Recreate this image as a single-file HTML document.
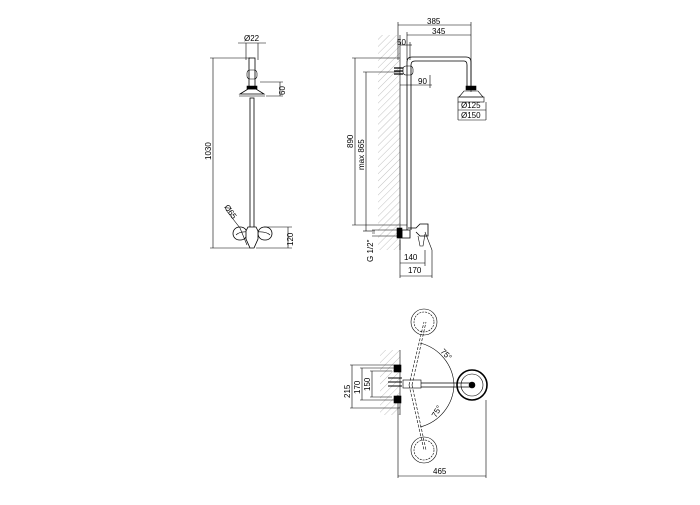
<!DOCTYPE html>
<html><head><meta charset="utf-8"><style>
body{margin:0;background:#fff}
svg text{font-family:"Liberation Sans",sans-serif;font-size:8px;fill:#000}
</style></head><body>
<svg width="700" height="500" viewBox="0 0 700 500" xmlns="http://www.w3.org/2000/svg">
<defs>
<pattern id="h" width="5" height="5" patternUnits="userSpaceOnUse" patternTransform="rotate(45)">
<line x1="0" y1="0" x2="0" y2="5" stroke="#999" stroke-width="0.6"/></pattern>
</defs>
<g fill="none" stroke="#000" stroke-width="0.6">
<!-- FRONT VIEW -->
<line x1="246" y1="43" x2="246" y2="60"/><line x1="258" y1="43" x2="258" y2="60"/>
<line x1="238" y1="43" x2="266" y2="43"/>
<rect x="249" y="58" width="6" height="30" stroke-width="0.8"/>
<rect x="247" y="70" width="10" height="9" rx="3"/>
<rect x="250" y="98" width="4" height="130" stroke-width="0.8"/>
<path d="M247 86 h10 v3 h-10z" fill="#000"/>
<path d="M240 94 L248 89 H256 L264 94 Z" stroke-width="0.8"/>
<line x1="239" y1="96" x2="265" y2="96"/>
<line x1="213" y1="58" x2="213" y2="248"/>
<line x1="210" y1="58" x2="250" y2="58"/><line x1="210" y1="248" x2="250" y2="248"/>
<line x1="260" y1="82" x2="283" y2="82"/><line x1="266" y1="96" x2="283" y2="96"/>
<line x1="280" y1="82" x2="280" y2="96"/>
<line x1="264" y1="227" x2="292" y2="227"/><line x1="256" y1="248" x2="292" y2="248"/>
<line x1="288" y1="227" x2="288" y2="248"/>
<rect x="233" y="227" width="14" height="13" rx="6.5" stroke-width="0.8"/>
<rect x="258" y="227" width="14" height="13" rx="6.5" stroke-width="0.8"/>
<path d="M236 235 Q240 231 248 232 M256 232 Q266 231 270 235" />
<path d="M248 227 h8 l2 4 v8 l-4 9 h-4 l-4 -9 v-8 z" fill="#fff" stroke-width="0.8"/>
<line x1="226" y1="210" x2="240" y2="228"/><line x1="240" y1="228" x2="247" y2="245"/>

<!-- SIDE VIEW -->
<rect x="378" y="35" width="22" height="215" fill="url(#h)" stroke="none"/>
<line x1="400" y1="35" x2="400" y2="250"/>
<line x1="398" y1="22" x2="398" y2="60"/><line x1="471" y1="22" x2="471" y2="92"/>
<line x1="398" y1="25" x2="471" y2="25"/>
<line x1="407" y1="32" x2="407" y2="60"/><line x1="407" y1="35" x2="471" y2="35"/>
<line x1="400" y1="45" x2="412" y2="45"/><line x1="410" y1="42" x2="410" y2="60"/>
<path d="M407 230 V62 Q407 57 412 57 H466 Q471 57 471 62 V86" stroke-width="0.8"/>
<path d="M411 230 V65 Q411 61 415 61 H464 Q467 61 467 65 V86" stroke-width="0.8"/>
<rect x="403" y="66" width="10" height="9" rx="3"/>
<path d="M394 68 h9 M394 71 h9 M394 74 h9" stroke-width="1.2"/>
<line x1="400" y1="85" x2="432" y2="85"/><line x1="430" y1="75" x2="430" y2="88"/>
<path d="M466 86 h10 v4 h-10z" fill="#000"/>
<path d="M459 97 L464 91 H478 L483 97 Z"/>
<rect x="458" y="97" width="26" height="5"/>
<line x1="458" y1="110" x2="486" y2="110"/><line x1="458" y1="120" x2="486" y2="120"/>
<line x1="458" y1="102" x2="458" y2="120"/><line x1="486" y1="102" x2="486" y2="120"/>
<line x1="355" y1="58" x2="355" y2="225"/>
<line x1="352" y1="58" x2="400" y2="58"/><line x1="352" y1="225" x2="407" y2="225"/>
<line x1="366" y1="72" x2="366" y2="231"/>
<line x1="363" y1="72" x2="400" y2="72"/><line x1="363" y1="231" x2="375" y2="231"/>
<path d="M372 230 h25 M372 236 h25 M375 233 h-3" />
<rect x="397" y="228" width="5" height="10" fill="#000"/>
<path d="M402 230 h8 v8 h-8z M408 228 h8 l4 -4 h8 v12 h-8 l-4 -4" stroke-width="0.8"/>
<path d="M418 236 l2 10 l3 0 l2 -12 M425 232 L432 250 V278"/>
<line x1="400" y1="240" x2="400" y2="278"/>
<line x1="425" y1="250" x2="425" y2="266"/>
<line x1="400" y1="263" x2="425" y2="263"/><line x1="400" y1="276" x2="432" y2="276"/>

<!-- TOP VIEW -->
<rect x="380" y="350" width="20" height="65" fill="url(#h)" stroke="none"/>
<line x1="400" y1="350" x2="400" y2="415"/>
<line x1="352" y1="365" x2="352" y2="408"/><line x1="362" y1="368" x2="362" y2="400"/><line x1="372" y1="371" x2="372" y2="397"/>
<line x1="350" y1="365" x2="400" y2="365"/><line x1="350" y1="408" x2="400" y2="408"/>
<line x1="360" y1="368" x2="400" y2="368"/><line x1="360" y1="400" x2="400" y2="400"/>
<line x1="370" y1="371" x2="392" y2="371"/><line x1="370" y1="397" x2="392" y2="397"/>
<rect x="394" y="365" width="7" height="7" fill="#000"/><rect x="394" y="396" width="7" height="7" fill="#000"/>
<path d="M388 378 h14 M388 382 h14 M388 386 h14" stroke-width="1"/>
<rect x="403" y="380" width="18" height="8"/>
<line x1="421" y1="383" x2="470" y2="383" stroke-width="0.8"/><line x1="421" y1="387" x2="470" y2="387" stroke-width="0.8"/>
<circle cx="472" cy="385" r="15" stroke-width="1.6"/><circle cx="472" cy="385" r="11"/><circle cx="472" cy="385" r="3" fill="#000"/>
<circle cx="424" cy="322" r="13"/><circle cx="424" cy="322" r="10" stroke-dasharray="2 1"/>
<circle cx="424" cy="450" r="13"/><circle cx="424" cy="450" r="10" stroke-dasharray="2 1"/>
<path d="M409 385 L424 322 M412 385 L426 322 M409 385 L424 450 M412 385 L426 450" stroke-dasharray="3 1.5"/>
<path d="M420 343 A45 45 0 0 1 454 385 A45 45 0 0 1 420 427"/>
<line x1="398" y1="395" x2="398" y2="478"/><line x1="486" y1="400" x2="486" y2="478"/>
<line x1="398" y1="476" x2="486" y2="476"/>
</g>
<g>
<text x="244" y="41">Ø22</text>
<text transform="translate(211,160) rotate(-90)">1030</text>
<text transform="translate(285,95) rotate(-90)">60</text>
<text transform="translate(293,246) rotate(-90)">120</text>
<text transform="translate(224,207) rotate(55)">Ø65</text>
<text x="427" y="24">385</text>
<text x="432" y="34">345</text>
<text x="397" y="45">50</text>
<text x="418" y="84">90</text>
<text x="461" y="108">Ø125</text>
<text x="461" y="118">Ø150</text>
<text transform="translate(353,148) rotate(-90)">890</text>
<text transform="translate(364,170) rotate(-90)">max 865</text>
<text transform="translate(373,262) rotate(-90)">G 1/2"</text>
<text x="404" y="260">140</text>
<text x="408" y="273">170</text>
<text transform="translate(350,398) rotate(-90)">215</text>
<text transform="translate(360,394) rotate(-90)">170</text>
<text transform="translate(370,391) rotate(-90)">150</text>
<text transform="translate(440,352) rotate(45)">75°</text>
<text transform="translate(436,418) rotate(-60)">75°</text>
<text x="433" y="474">465</text>
</g>
</svg>
</body></html>
